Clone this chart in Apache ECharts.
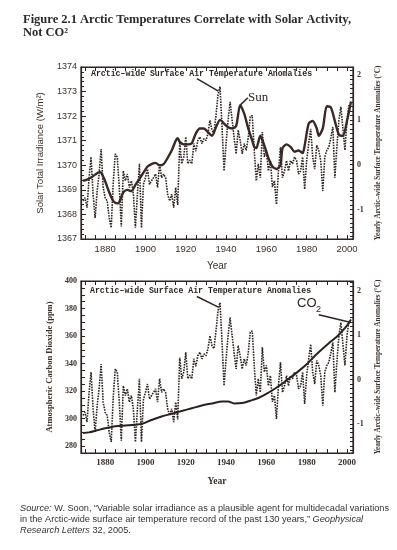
<!DOCTYPE html>
<html>
<head>
<meta charset="utf-8">
<script src="https://cdn.jsdelivr.net/npm/echarts@6/dist/echarts.min.js"></script>
<style>
html, body { margin: 0; padding: 0; background: #fff; }
#main { width: 397px; height: 550px; }
</style>
</head>
<body>
<div id="main"></div>
<script>
// Arctic temperature anomalies (deg C), one value per year
var tempYears = [];
for (var y = 1869; y <= 2001; y++) tempYears.push(y);
var tempValues = [
  -0.81, -0.74, -0.96, -0.3, 0.17, -0.66, -1.19, -0.6, -0.2, 0.35,
  -0.51, -0.74, -0.81, -1.19, -1.41, -0.4, 0.24, 0.17, -0.51, -1.38,
  -0.14, -0.36, -0.21, -0.51, -0.36, -0.66, -1.41, -0.66, 0.02, -1.41,
  -0.44, -0.29, -0.1, -0.44, -0.36, -0.29, -0.21, -0.51, 0.02, -0.29,
  -0.21, -0.29, -0.66, -0.81, -0.66, -0.96, -0.51, -0.9, 0.5, 0.02,
  0.17, 0.62, 0.02, 0.1, 0.02, 0.47, 0.3, 0.54, 0.62, 0.47,
  0.58, 0.54, 0.69, 0.99, 0.77, 0.7, 1.1, 1.56, 1.74, 0.84,
  -0.14, 0.47, 0.99, 1.4, 1.0, 0.6, 0.24, 0.77, 0.54, 0.24,
  0.47, 0.32, 0.6, 1.07, 1.1, 0.3, -0.36, 0.02, -0.29, 0.73,
  0.17, 0.32, -0.14, 0.09, -0.5, -0.36, -0.89, -0.14, 0.39, -0.29,
  -0.14, 0.09, -0.14, 0.09, 0.02, 0.17, 0.09, -0.21, -0.14, 0.17,
  -0.55, 0.09, 0.47, 0.8, 0.17, -0.1, 0.43, 0.32, 0.09, -0.59,
  0.17, 0.32, 0.39, 0.6, 0.84, -0.29, 0.4, 0.99, 1.29, 0.8,
  0.32, 0.99, 1.33
];

// Solar total irradiance (W/m2)
var sunYears = [1869, 1871, 1873, 1875, 1877, 1878, 1880, 1882, 1884, 1886, 1887, 1889, 1891, 1893,
  1895, 1897, 1899, 1901, 1903, 1905, 1907, 1909, 1911, 1913, 1915, 1916, 1917, 1919, 1921, 1923,
  1925, 1927, 1929, 1931, 1933, 1935, 1937, 1939, 1941, 1943, 1945, 1947, 1949, 1951, 1953, 1954,
  1955, 1957, 1959, 1961, 1963, 1965, 1967, 1968, 1970, 1972, 1974, 1976, 1978, 1979, 1981, 1983,
  1985, 1986, 1988, 1990, 1992, 1994, 1996, 1998, 2000, 2002];
var sunValues = [1369.37, 1369.42, 1369.5, 1369.62, 1369.72, 1369.7, 1369.35, 1368.9, 1368.55, 1368.45,
  1368.5, 1368.9, 1369.0, 1368.95, 1369.2, 1369.45, 1369.7, 1369.95, 1370.05, 1370.1, 1370.0, 1370.05,
  1370.3, 1370.6, 1371.0, 1371.1, 1370.95, 1370.85, 1370.85, 1370.9, 1371.3, 1371.5, 1371.5, 1371.35,
  1371.2, 1371.55, 1371.85, 1371.7, 1371.55, 1371.5, 1371.6, 1372.45, 1372.1, 1371.5, 1371.0, 1370.75,
  1370.7, 1371.2, 1370.8, 1370.3, 1369.95, 1369.85, 1370.0, 1370.7, 1370.85, 1370.75, 1370.55, 1370.6,
  1370.5, 1370.8, 1371.7, 1371.8, 1371.5, 1371.2, 1371.5, 1372.4, 1372.35, 1371.8, 1371.25, 1371.2,
  1371.8, 1372.6];

// Atmospheric CO2 (ppm)
var co2Years = [1869, 1872, 1876, 1880, 1885, 1890, 1895, 1899, 1903, 1908, 1913, 1918, 1923, 1928,
  1933, 1938, 1941, 1944, 1948, 1952, 1956, 1960, 1964, 1968, 1972, 1976, 1980, 1984, 1988, 1992,
  1996, 2000, 2002];
var co2Values = [289.5, 290, 291.5, 293, 294.5, 295, 295.5, 296.5, 299, 301.5, 303.5, 305.5, 307.5,
  309.5, 311, 312.5, 312.5, 311, 311.3, 313, 315, 318, 321.5, 325.5, 330, 334.5, 339.5, 345.5, 351,
  356, 361, 367.5, 372];

var yearLabels = [1880, 1900, 1920, 1940, 1960, 1980, 2000];
var anomLabels = [-1, 0, 1, 2];
var co2Labels = [280, 300, 320, 340, 360, 380, 400];

function steps(a, b, s) {
  var out = [];
  for (var v = a; v <= b + 1e-9; v += s) out.push(Math.round(v * 100) / 100);
  return out;
}
function pairs(xs, ys) {
  return xs.map(function (x, i) { return [x, ys[i]]; });
}
function plain(v) { return String(v); }

var ink = '#2e2522';
var txt = '#3c302b';
var sansLbl = { color: txt, fontFamily: 'Liberation Sans', fontSize: 9.5 };
var serifLbl = { color: txt, fontFamily: 'Liberation Serif', fontWeight: 'bold', fontSize: 9 };
var yearTicks = steps(1870, 2000, 5);

function xAxes(gridIndex, lbl, nameGap) {
  return [{
    type: 'value', gridIndex: gridIndex, min: 1868, max: 2003, position: 'bottom',
    name: 'Year', nameLocation: 'middle', nameGap: nameGap,
    nameTextStyle: Object.assign({}, lbl, { fontSize: lbl.fontSize + 0.5 }),
    axisLine: { show: true, onZero: false, lineStyle: { color: ink, width: 1.2 } },
    axisTick: { inside: true, length: 4, customValues: yearTicks, lineStyle: { color: ink } },
    axisLabel: Object.assign({ customValues: yearLabels, margin: 5, formatter: plain }, lbl),
    splitLine: { show: false }
  }, {
    type: 'value', gridIndex: gridIndex, min: 1868, max: 2003, position: 'top',
    axisLine: { show: true, onZero: false, lineStyle: { color: ink, width: 1.2 } },
    axisTick: { inside: true, length: 4, customValues: yearTicks, lineStyle: { color: ink } },
    axisLabel: { show: false },
    splitLine: { show: false }
  }];
}

function anomAxis(gridIndex, min, max, nameGap) {
  return {
    type: 'value', gridIndex: gridIndex, position: 'right', min: min, max: max,
    name: 'Yearly Arctic\u2013wide Surface Temperature Anomalies (\u00b0C)',
    nameLocation: 'middle', nameGap: nameGap, nameRotate: 90,
    nameTextStyle: { color: txt, fontFamily: 'Liberation Serif', fontWeight: 'bold', fontSize: 7.2 },
    axisLine: { show: true, onZero: false, lineStyle: { color: ink, width: 1.2 } },
    axisTick: { inside: true, length: 3, customValues: steps(-1.6, 2.2, 0.1), lineStyle: { color: ink } },
    axisLabel: Object.assign({ customValues: anomLabels, margin: 4, formatter: plain }, serifLbl, { fontSize: 8 }),
    splitLine: { show: false }
  };
}

var chart = echarts.init(document.getElementById('main'), null, { renderer: 'canvas' });

var peakIdx = tempValues.indexOf(Math.max.apply(null, tempValues));
var peakYear = tempYears[peakIdx], peakVal = tempValues[peakIdx];
var pointerStyle = { color: ink, width: 1.5, type: 'solid' };

var option = {
  backgroundColor: '#ffffff',
  animation: false,
  grid: [
    { left: 81, top: 67, width: 272, height: 172, show: true, borderColor: ink, borderWidth: 1.2 },
    { left: 81, top: 281, width: 272, height: 172, show: true, borderColor: ink, borderWidth: 1.2 }
  ],
  xAxis: [].concat(xAxes(0, sansLbl, 22), xAxes(1, serifLbl, 24)),
  yAxis: [
    {
      type: 'value', gridIndex: 0, position: 'left', min: 1367, max: 1374, interval: 1,
      name: 'Solar Total Irradiance (W/m\u00b2)', nameLocation: 'middle', nameGap: 36, nameRotate: 90,
      nameTextStyle: { color: txt, fontFamily: 'Liberation Sans', fontSize: 9.5 },
      axisLine: { show: true, onZero: false, lineStyle: { color: ink, width: 1.2 } },
      axisTick: { inside: true, length: 5, lineStyle: { color: ink } },
      minorTick: { show: true, splitNumber: 5, length: 3, lineStyle: { color: ink } },
      axisLabel: Object.assign({ margin: 4, formatter: plain }, sansLbl, { fontSize: 9 }),
      splitLine: { show: false }
    },
    anomAxis(0, -1.66, 2.18, 20),
    {
      type: 'value', gridIndex: 1, position: 'left', min: 275, max: 400,
      name: 'Atmospheric Carbon Dioxide (ppm)', nameLocation: 'middle', nameGap: 24, nameRotate: 90,
      nameTextStyle: { color: txt, fontFamily: 'Liberation Serif', fontWeight: 'bold', fontSize: 8.5 },
      axisLine: { show: true, onZero: false, lineStyle: { color: ink, width: 1.2 } },
      axisTick: { inside: true, length: 4, customValues: steps(275, 400, 5), lineStyle: { color: ink } },
      axisLabel: Object.assign({ customValues: co2Labels, margin: 4, formatter: plain }, serifLbl, { fontSize: 8 }),
      splitLine: { show: false }
    },
    anomAxis(1, -1.66, 2.23, 18)
  ],
  series: [
    {
      type: 'line', xAxisIndex: 0, yAxisIndex: 1, data: pairs(tempYears, tempValues),
      showSymbol: false, lineStyle: { color: ink, width: 1.6, type: [1.6, 1.1] },
      markLine: {
        silent: true, symbol: 'none', label: { show: false }, lineStyle: pointerStyle,
        data: [[{ coord: [1925.5, 1.92] }, { coord: [peakYear - 0.8, peakVal - 0.1] }]]
      }
    },
    {
      type: 'line', xAxisIndex: 0, yAxisIndex: 0, data: pairs(sunYears, sunValues),
      showSymbol: false, smooth: 0.25, lineStyle: { color: '#3a2824', width: 2.4 },
      markLine: {
        silent: true, symbol: 'none', label: { show: false }, lineStyle: pointerStyle,
        data: [[{ coord: [1947, 1372.45] }, { coord: [1950.8, 1372.75] }]]
      }
    },
    {
      type: 'line', xAxisIndex: 2, yAxisIndex: 3, data: pairs(tempYears, tempValues),
      showSymbol: false, lineStyle: { color: ink, width: 1.6, type: [1.6, 1.1] },
      markLine: {
        silent: true, symbol: 'none', label: { show: false }, lineStyle: pointerStyle,
        data: [[{ coord: [1925.5, 1.88] }, { coord: [peakYear - 0.8, peakVal - 0.1] }]]
      }
    },
    {
      type: 'line', xAxisIndex: 2, yAxisIndex: 2, data: pairs(co2Years, co2Values),
      showSymbol: false, smooth: 0.3, lineStyle: { color: '#2a211e', width: 2 },
      markLine: {
        silent: true, symbol: 'none', label: { show: false }, lineStyle: pointerStyle,
        data: [[{ coord: [1986, 375.5] }, { coord: [2001, 370.2] }]]
      }
    }
  ],
  graphic: [
    { type: 'text', left: 23, top: 13, style: { text: 'Figure 2.1 Arctic Temperatures Correlate with Solar Activity,',
      fill: '#2b2b2b', font: 'bold 12.5px "Liberation Serif"' } },
    { type: 'text', left: 23, top: 26, style: { text: 'Not CO\u00b2', fill: '#2b2b2b', font: 'bold 12.5px "Liberation Serif"' } },
    { type: 'text', left: 91, top: 70, style: { text: 'Arctic\u2013wide Surface Air Temperature Anomalies',
      fill: ink, font: 'bold 8.2px "Liberation Mono"' } },
    { type: 'text', left: 90, top: 287, style: { text: 'Arctic\u2013wide Surface Air Temperature Anomalies',
      fill: ink, font: 'bold 8.2px "Liberation Mono"' } },
    { type: 'text', left: 248, top: 91, style: { text: 'Sun', fill: ink, font: '13px "Liberation Serif"' } },
    { type: 'text', left: 297, top: 297, style: { text: 'CO', fill: ink, font: '13px "Liberation Sans"' } },
    { type: 'text', left: 316, top: 305, style: { text: '2', fill: ink, font: '9px "Liberation Sans"' } },
    { type: 'text', left: 20, top: 503, style: {
      text: '{i|Source:} W. Soon, \u201cVariable solar irradiance as a plausible agent for multidecadal variations\n' +
        'in the Arctic-wide surface air temperature record of the past 130 years,\u201d {i|Geophysical}\n' +
        '{i|Research Letters} 32, 2005.',
      fill: '#333', font: '9.2px "Liberation Sans"', lineHeight: 11,
      rich: { i: { fontStyle: 'italic', fontFamily: 'Liberation Sans', fontSize: 9.2, fill: '#333', lineHeight: 11 } }
    } }
  ]
};
chart.setOption(option);
</script>
</body>
</html>
